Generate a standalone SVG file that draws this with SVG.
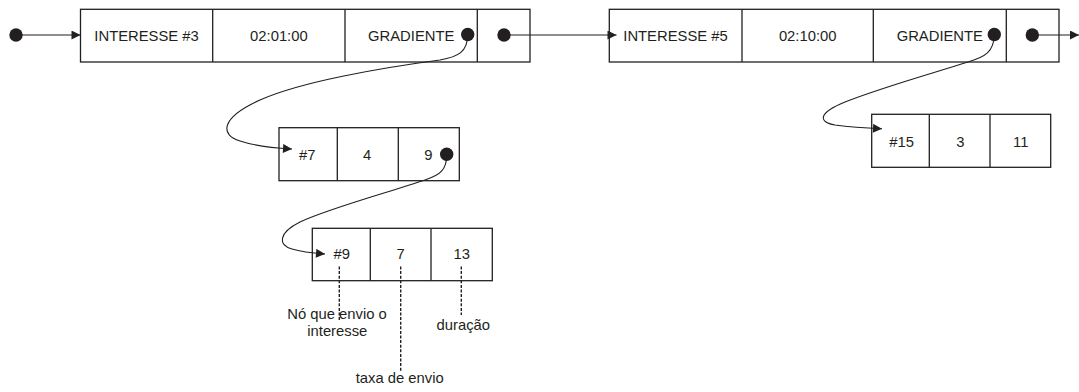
<svg xmlns="http://www.w3.org/2000/svg" width="1079" height="392" viewBox="0 0 1079 392">
<defs>
<style>
.box{fill:#fff;stroke:#231f20;stroke-width:1.3}
.div{stroke:#231f20;stroke-width:1.3;fill:none}
.t{font-family:"Liberation Sans",Arial,sans-serif;font-size:14.8px;fill:#231f20;text-anchor:middle}
.ln{fill:none;stroke:#231f20;stroke-width:1.1}
.dash{fill:none;stroke:#231f20;stroke-width:1.4;stroke-dasharray:3,1.6}
.dot{fill:#231f20}
</style>
<marker id="arr" viewBox="0 0 10 10" refX="10" refY="5" markerWidth="10" markerHeight="9" markerUnits="userSpaceOnUse" orient="auto">
<path d="M0,0 L10,5 L0,10 Z" fill="#231f20"/>
</marker>
</defs>

<g id="node-interesse3">
<rect class="box" x="80.5" y="9.3" width="449.5" height="52.7"/>
<path class="div" d="M212.7,9.3V62M345,9.3V62M477.3,9.3V62"/>
<text class="t" x="146.6" y="40.7">INTERESSE #3</text>
<text class="t" x="278.9" y="40.7">02:01:00</text>
<text class="t" x="411.2" y="40.7">GRADIENTE</text>
</g>

<g id="node-interesse5">
<rect class="box" x="609.3" y="9.3" width="449.7" height="52.7"/>
<path class="div" d="M742,9.3V62M873.3,9.3V62M1006.3,9.3V62"/>
<text class="t" x="675.5" y="40.7">INTERESSE #5</text>
<text class="t" x="807.7" y="40.7">02:10:00</text>
<text class="t" x="939.8" y="40.7">GRADIENTE</text>
</g>

<g id="node-grad7">
<rect class="box" x="279" y="127.7" width="180.3" height="53"/>
<path class="div" d="M337.3,127.7V180.7M398.3,127.7V180.7"/>
<text class="t" x="307.3" y="159.6">#7</text>
<text class="t" x="367" y="159.6">4</text>
<text class="t" x="428.3" y="159.6">9</text>
</g>

<g id="node-grad9">
<rect class="box" x="312.3" y="228.3" width="180" height="52.4"/>
<path class="div" d="M370.3,228.3V280.7M431,228.3V280.7"/>
<text class="t" x="341.7" y="258.6">#9</text>
<text class="t" x="400.5" y="258.6">7</text>
<text class="t" x="461.7" y="258.6">13</text>
</g>

<g id="node-grad15">
<rect class="box" x="871.7" y="114.3" width="179" height="53"/>
<path class="div" d="M929.3,114.3V167.3M990,114.3V167.3"/>
<text class="t" x="901.7" y="146.5">#15</text>
<text class="t" x="960.3" y="146.5">3</text>
<text class="t" x="1020.7" y="146.5">11</text>
</g>

<g id="labels">
<text class="t" x="337" y="319">Nó que envio o</text>
<text class="t" x="337.3" y="335.7">interesse</text>
<text class="t" x="463.3" y="330">duração</text>
<text class="t" x="399.7" y="383.3">taxa de envio</text>
</g>

<g id="connectors">
<circle class="dot" cx="16" cy="35" r="6.7"/>
<path class="ln" d="M16,35H80.5" marker-end="url(#arr)"/>
<circle class="dot" cx="467.7" cy="34.5" r="6.7"/>
<path class="ln" d="M467.7,34.5C467.7,52 458,57 440,60C380,68 300,82 260,100C220,118 220,135 240,141C255,146 275,148 292,149" marker-end="url(#arr)"/>
<circle class="dot" cx="504" cy="35" r="6.7"/>
<path class="ln" d="M504,35H616.5" marker-end="url(#arr)"/>
<circle class="dot" cx="994.3" cy="34.5" r="6.7"/>
<path class="ln" d="M994.3,34.5C994,52 985,57 968,62C930,74 880,88 845,102C818,113 818,122 835,125C850,127 865,128 882,128.7" marker-end="url(#arr)"/>
<circle class="dot" cx="1032.3" cy="35" r="6.7"/>
<path class="ln" d="M1032.3,35H1079" marker-end="url(#arr)"/>
<circle class="dot" cx="446.7" cy="154.3" r="6.7"/>
<path class="ln" d="M446.7,154.3C447,170 440,175 425,180C390,192 330,208 300,222C278,233 278,245 292,249C302,252 312,253 325,254" marker-end="url(#arr)"/>
<path class="dash" d="M339.3,266.5V320"/>
<path class="dash" d="M400.7,266.5V371.7"/>
<path class="dash" d="M461.3,266.5V315"/>
</g>
</svg>
